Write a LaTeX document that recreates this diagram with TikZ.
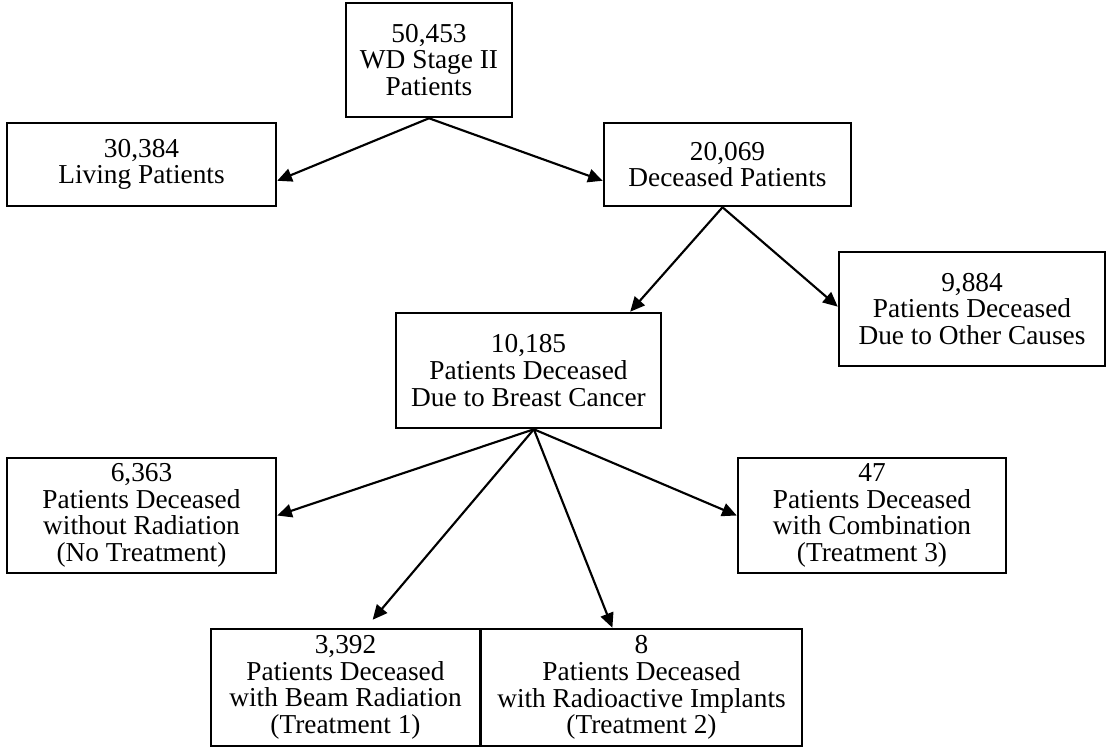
\documentclass[tikz,border=0pt]{standalone}
\usepackage{fontspec}
\setmainfont{Liberation Serif}
\usetikzlibrary{arrows.meta,calc}
\begin{document}
\begin{tikzpicture}[x=0.75pt,y=-0.75pt,
  box/.style={draw,line width=1.9pt,fill=white,align=center,inner sep=0pt,
    font=\fontsize{20.5}{20}\selectfont},
  arr/.style={line width=1.6pt,-{Triangle[length=11pt,width=10pt]}}]
\useasboundingbox (0,0) rectangle (1112,754);
\node[box,minimum width=124.5pt,minimum height=85.5pt] (top) at (429,60) {50,453\\WD Stage II\\Patients};
\node[box,minimum width=201.75pt,minimum height=62.25pt] (living) at (141.5,164.5) {30,384\\Living Patients};
\node[box,minimum width=185.25pt,minimum height=62.25pt] (dec) at (727.5,164.5) {20,069\\Deceased Patients};
\node[box,minimum width=199.5pt,minimum height=85.5pt] (other) at (972,309) {9,884\\Patients Deceased\\Due to Other Causes};
\node[box,minimum width=198.75pt,minimum height=86.25pt] (breast) at (528.5,370.5) {10,185\\Patients Deceased\\Due to Breast Cancer};
\node[box,minimum width=201.75pt,minimum height=86.25pt] (none) at (141.5,515.5) {6,363\\Patients Deceased\\without Radiation\\(No Treatment)};
\node[box,minimum width=201pt,minimum height=86.25pt] (comb) at (872,515.5) {47\\Patients Deceased\\with Combination\\(Treatment 3)};
\node[box,minimum width=201.75pt,minimum height=87.75pt] (beam) at (345.5,687.5) {3,392\\Patients Deceased\\with Beam Radiation\\(Treatment 1)};
\node[box,minimum width=240.75pt,minimum height=87.75pt] (impl) at (641.5,687.5) {8\\Patients Deceased\\with Radioactive Implants\\(Treatment 2)};
\draw[arr] (top.south) -- ($(living.north east)!0.69!(living.south east)$);
\draw[arr] (top.south) -- ($(dec.north west)!0.69!(dec.south west)$);
\draw[arr] ($(dec.south west)!0.48!(dec.south east)$) -- ($(breast.north west)!0.88!(breast.north east)$);
\draw[arr] ($(dec.south west)!0.48!(dec.south east)$) -- ($(other.north west)!0.48!(other.south west)$);
\draw[arr] ($(breast.south west)!0.52!(breast.south east)$) -- (none.east);
\draw[arr] ($(breast.south west)!0.52!(breast.south east)$) -- ($(beam.north west)!0.6!(beam.north east)+(0,-8)$);
\draw[arr] ($(breast.south west)!0.52!(breast.south east)$) -- ($(impl.north west)!0.41!(impl.north east)$);
\draw[arr] ($(breast.south west)!0.52!(breast.south east)$) -- (comb.west);
\end{tikzpicture}
\end{document}
